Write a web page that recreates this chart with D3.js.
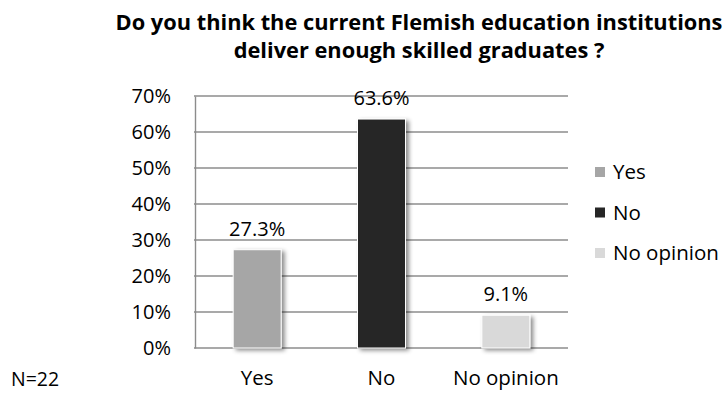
<!DOCTYPE html>
<html>
<head>
<meta charset="utf-8">
<script src="https://cdn.jsdelivr.net/npm/d3@7"></script>
<style>
  body { margin: 0; background: #fff; }
  text { font-family: "Open Sans", sans-serif; fill: #000; }
</style>
</head>
<body>
<div id="chart"></div>
<script>
// chart data
var categories = ["Yes", "No", "No opinion"];
var values = [0.273, 0.636, 0.091];
var barColors = ["#a6a6a6", "#262626", "#d9d9d9"];
var yTicks = [0, 0.1, 0.2, 0.3, 0.4, 0.5, 0.6, 0.7];
var titleLines = ["Do you think the current Flemish education institutions", "deliver enough skilled graduates ?"];
var note = "N=22";

var W = 727, H = 394;
var plot = {left: 195, right: 568, top: 96, bottom: 348};

var svg = d3.select("#chart").append("svg")
    .attr("width", W)
    .attr("height", H);

// soft drop shadow like the office chart
var defs = svg.append("defs");
var f = defs.append("filter").attr("id", "shadow")
    .attr("x", "-30%").attr("y", "-10%").attr("width", "160%").attr("height", "130%");
f.append("feDropShadow")
    .attr("dx", 3).attr("dy", 2)
    .attr("stdDeviation", 2)
    .attr("flood-color", "#000")
    .attr("flood-opacity", 0.45);

var x = d3.scaleBand()
    .domain(categories)
    .range([plot.left, plot.right])
    .paddingInner(0.614)
    .paddingOuter(0.307);

var y = d3.scaleLinear()
    .domain([0, 0.7])
    .range([plot.bottom, plot.top]);

// title
svg.append("text")
    .attr("x", 419)
    .attr("y", 30)
    .attr("text-anchor", "middle")
    .style("font-weight", "bold")
    .style("font-size", "21.8px")
    .selectAll("tspan")
    .data(titleLines)
    .enter()
    .append("tspan")
      .attr("x", 419)
      .attr("dy", function(d, i) { return i === 0 ? 0 : 28; })
      .text(function(d) { return d; });

// gridlines
svg.append("g")
    .selectAll("line")
    .data(yTicks)
    .enter()
    .append("line")
      .attr("x1", plot.left - 1)
      .attr("x2", plot.right)
      .attr("y1", function(d) { return y(d); })
      .attr("y2", function(d) { return y(d); })
      .attr("stroke", "#8c8c8c")
      .attr("stroke-width", 1.4);

// y axis
var yAxis = svg.append("g")
    .attr("transform", "translate(" + plot.left + ",0)")
    .call(d3.axisLeft(y).tickValues(yTicks).tickFormat(d3.format(".0%")).tickSize(0).tickPadding(24));
yAxis.select(".domain").attr("stroke", "#8c8c8c").attr("stroke-width", 1.4);
yAxis.selectAll("text").style("font-size", "20px").attr("fill", "#000")
    .style("font-family", "'Open Sans', sans-serif");

// x axis labels
var xAxis = svg.append("g")
    .attr("transform", "translate(0," + plot.bottom + ")")
    .call(d3.axisBottom(x).tickSize(0).tickPadding(22));
xAxis.select(".domain").remove();
xAxis.selectAll("text").style("font-size", "20.5px").attr("fill", "#000")
    .style("font-family", "'Open Sans', sans-serif");

// bars
svg.append("g")
    .selectAll("rect")
    .data(values)
    .enter()
    .append("rect")
      .attr("x", function(d, i) { return x(categories[i]); })
      .attr("y", function(d) { return y(d); })
      .attr("width", x.bandwidth())
      .attr("height", function(d) { return y(0) - y(d); })
      .attr("fill", function(d, i) { return barColors[i]; })
      .attr("stroke", "#fff")
      .attr("stroke-width", 1)
      .attr("filter", "url(#shadow)");

// value labels
svg.append("g")
    .selectAll("text")
    .data(values)
    .enter()
    .append("text")
      .attr("x", function(d, i) { return x(categories[i]) + x.bandwidth() / 2; })
      .attr("y", function(d) { return y(d) - 14; })
      .attr("text-anchor", "middle")
      .style("font-size", "20px")
      .text(function(d) { return d3.format(".1%")(d); });

// legend
var legend = svg.append("g")
    .selectAll("g")
    .data(categories)
    .enter()
    .append("g")
      .attr("transform", function(d, i) { return "translate(595," + (172 + i * 40.5) + ")"; });
legend.append("rect")
    .attr("x", 0).attr("y", -5)
    .attr("width", 10).attr("height", 10)
    .attr("fill", function(d, i) { return barColors[i]; });
legend.append("text")
    .attr("x", 18)
    .attr("dy", "0.35em")
    .style("font-size", "20.5px")
    .text(function(d) { return d; });

// sample size note
svg.append("text")
    .attr("x", 11)
    .attr("y", 386)
    .style("font-size", "19.5px")
    .text(note);
</script>
</body>
</html>
